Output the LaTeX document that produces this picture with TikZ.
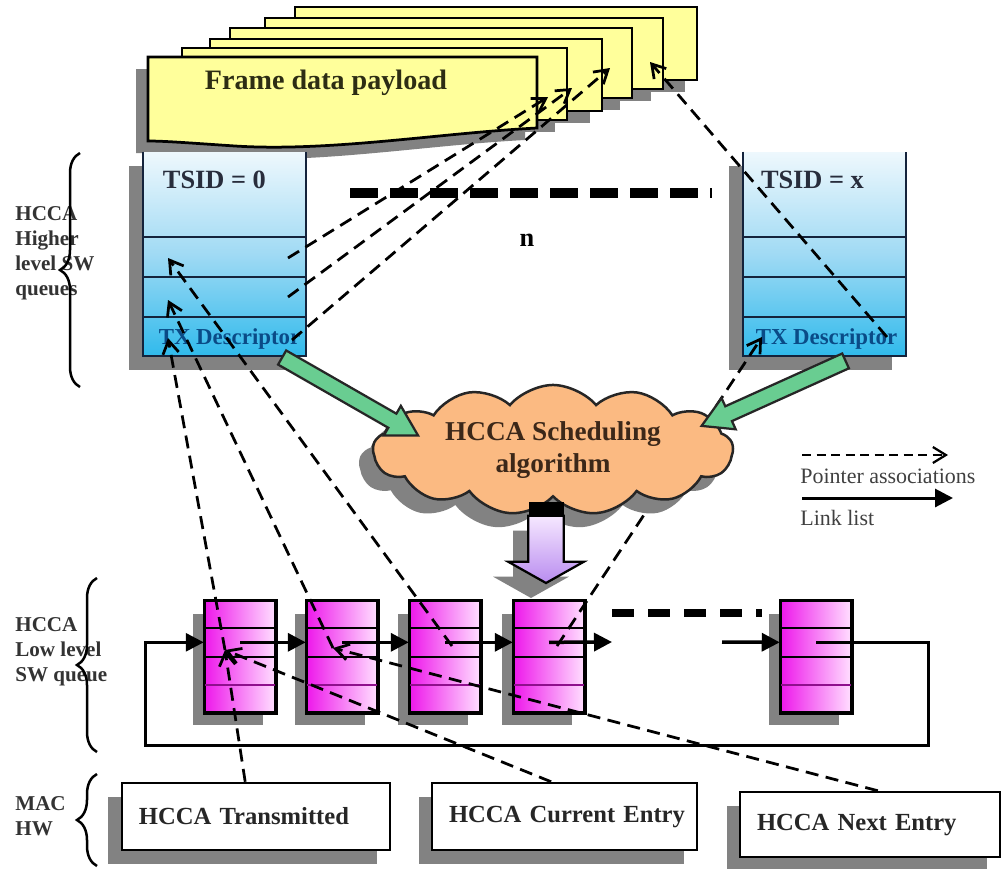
\documentclass[tikz,border=0pt]{standalone}
\usepackage{fontspec}
\setmainfont{Liberation Serif}
\usepackage{tikz}
\usetikzlibrary{arrows.meta,calc,shadows,shapes.symbols,shapes.arrows,decorations.pathreplacing}

\definecolor{frameyellow}{RGB}{255,255,155}
\definecolor{frameink}{RGB}{45,45,20}
\definecolor{queuetop}{RGB}{238,248,253}
\definecolor{queuemid}{RGB}{160,218,244}
\definecolor{queuebot}{RGB}{48,186,236}
\definecolor{queueedge}{RGB}{20,35,60}
\definecolor{tsidink}{RGB}{40,45,60}
\definecolor{descink}{RGB}{10,75,135}
\definecolor{cloudfill}{RGB}{251,186,130}
\definecolor{cloudink}{RGB}{60,40,25}
\definecolor{greenarrow}{RGB}{105,205,145}
\definecolor{lavlight}{RGB}{246,232,255}
\definecolor{lavdark}{RGB}{185,140,240}
\definecolor{entrymag}{RGB}{238,25,235}
\definecolor{entrypink}{RGB}{255,222,255}
\definecolor{shadowgray}{RGB}{130,130,130}

\tikzset{
  grayshadow/.style={drop shadow={shadow xshift=-#1, shadow yshift=-#1, fill=shadowgray, opacity=1}},
  grayshadow/.default=2.6mm,
  frame/.style={draw=black, line width=0.55mm, fill=frameyellow, grayshadow=2.4mm},
  queue/.style={top color=queuetop, bottom color=queuebot, middle color=queuemid,
    minimum width=32.6mm, minimum height=40.8mm, inner sep=0, grayshadow=2.8mm},
  queueline/.style={draw=queueedge, line width=0.45mm},
  tsid/.style={font=\bfseries\fontsize{15}{18}\selectfont, text=tsidink, inner sep=0},
  desc/.style={font=\bfseries\fontsize{13}{15}\selectfont, text=descink, inner sep=0},
  entry/.style={left color=entrymag, right color=entrypink, draw=black, line width=0.5mm,
    minimum width=14mm, minimum height=22.2mm, inner sep=0, grayshadow=2.5mm},
  hwbox/.style={draw=black, line width=0.5mm, fill=white, minimum height=13.4mm, inner xsep=3.4mm,
    align=left, grayshadow=2.7mm, font=\bfseries\fontsize{14}{16}\selectfont, text=black!85},
  ptr/.style={line width=0.55mm, dash pattern=on 2.6mm off 1.5mm, -{Straight Barb[length=2.6mm,width=3.2mm]}},
  link/.style={line width=0.7mm, -{Triangle[length=3.6mm,width=3.6mm]}},
  fatarrow/.style={single arrow, draw=black!85, line width=0.45mm, fill=greenarrow, inner xsep=0,
    inner ysep=1.4mm, single arrow head extend=1.8mm, single arrow tip angle=60},
  cloudnode/.style={cloud, cloud puffs=13, cloud puff arc=100, cloud ignores aspect, minimum width=72mm,
    minimum height=24mm, fill=cloudfill, draw=black!85, line width=0.5mm, align=center, grayshadow=2.8mm,
    font=\bfseries\fontsize{15.5}{18.2}\selectfont, text=cloudink},
  sidelabel/.style={font=\bfseries\fontsize{12}{14.2}\selectfont, text=black!80, align=left,
    anchor=north west, inner sep=0},
  legend/.style={font=\fontsize{12.5}{15}\selectfont, text=black!75, inner sep=0, anchor=base west},
  brace/.style={decorate, decoration={brace, amplitude=4mm}, line width=0.5mm},
}

\begin{document}
\begin{tikzpicture}[x=0.2mm, y=-0.2mm]
\path[use as bounding box, fill=white] (0,0) rectangle (1007,868);

% frame data payload
\foreach \xa/\ya/\xb/\yb in {295/7/697/80, 265/18/663/89, 230/28/632/98, 210/39/602/111, 182/48/567/120}
  \filldraw[frame] (\xa,\ya) rectangle (\xb,\yb);
\filldraw[frame] (148,57) -- (537,57) -- (537,128) .. controls (440,133) and (330,152) .. (235,146)
  .. controls (190,143) and (165,141) .. (148,141) -- cycle;
\node[font=\bfseries\fontsize{16}{19}\selectfont, text=frameink] (payload) at (326,83) {Frame data payload};

% higher level queues
\node[queue] (qL) at (224.5,254) {};
\node[queue] (qR) at (824.5,254) {};
\foreach \q in {qL,qR} {
  \draw[queueline] (\q.north west) |- (\q.south east) -- (\q.north east);
  \foreach \f in {0.417,0.613,0.809}
    \draw[queueline, line width=0.35mm] ($(\q.north west)!\f!(\q.south west)$) -- ($(\q.north east)!\f!(\q.south east)$);
}
\node[tsid, anchor=west] (tsidL) at ($(qL.north west)+(20,28)$) {TSID = 0};
\node[tsid, anchor=west] (tsidR) at ($(qR.north west)+(18,28)$) {TSID = x};
\node[desc] (descL) at ($(qL.south)+(5,-17)$) {TX Descriptor};
\node[desc] (descR) at ($(qR.south)+(2,-17)$) {TX Descriptor};

\coordinate (gapL) at (350,193);
\coordinate (gapR) at (712,193);
\draw[line width=2mm, dash pattern=on 5.6mm off 2.4mm] (gapL) -- (gapR);
\node[font=\bfseries\fontsize{15}{18}\selectfont] (nq) at (527,240) {n};

% MAC HW
\node[hwbox, text width=46.8mm] (trans) at (256,816.5) {\mbox{HCCA Transmitted}};
\node[hwbox, text width=46.2mm] (cur) at (564.5,816.5) {\mbox{HCCA Current Entry}};
\node[hwbox, text width=45.2mm, minimum height=13mm] (next) at (870,824.5) {\mbox{HCCA Next Entry}};

% low level queue
\foreach \n/\x in {e1/240,e2/342,e3/445,e4/549,e5/816} {
  \node[entry] (\n) at (\x,656.5) {};
  \draw[line width=0.4mm] ($(\n.north west)!0.25!(\n.south west)$) -- ($(\n.north east)!0.25!(\n.south east)$);
  \draw[line width=0.4mm] ($(\n.north west)!0.5!(\n.south west)$) -- ($(\n.north east)!0.5!(\n.south east)$);
  \draw[line width=0.3mm, entrymag!60!black] ($(\n.north west)!0.75!(\n.south west)$) -- ($(\n.north east)!0.75!(\n.south east)$);
  \draw[line width=0.5mm] (\n.north west) rectangle (\n.south east);
  \coordinate (\n-m) at ($(\n.north)!0.375!(\n.south)$);
  \coordinate (\n-w) at ($(\n.north west)!0.375!(\n.south west)$);
}

% link list
\coordinate (gapA) at (612,642);
\coordinate (gapB) at (722,642);
\coordinate (loopR) at (928,745);
\coordinate (loopL) at (145,745);
\draw[link] (e1-m) -- (e2-w);
\draw[link] (e2-m) -- (e3-w);
\draw[link] (e3-m) -- (e4-w);
\draw[link] (e4-m) -- (gapA);
\draw[link] (gapB) -- (e5-w);
\draw[link, line width=0.6mm] (e5-m) -| (loopR) -- (loopL) |- (e1-w);
\coordinate (dashA) at (612,613);
\coordinate (dashB) at (762,613);
\draw[line width=1.6mm, dash pattern=on 4.4mm off 2.8mm] (dashA) -- (dashB);

% pointer associations
\coordinate (pf1) at (548,97);
\coordinate (pf2) at (572,88);
\coordinate (pf3) at (610,68);
\coordinate (pf4) at (650,62);
\coordinate (qLa) at (168,258);
\coordinate (qLb) at (168,300);
\coordinate (qLc) at (168,338);
\coordinate (qLr2) at (288,258);
\coordinate (qLr3) at (288,297);
\coordinate (qLr4) at (292,340);
\coordinate (qRd) at (762,337);
\coordinate (qRr) at (887,337);
\coordinate (e1p) at (225,650);
\coordinate (e2p) at (333,648);
\coordinate (e3p) at (452,646);
\coordinate (e4p) at (557,646);
\draw[ptr] (qLr2) -- (pf1);
\draw[ptr] (qLr3) -- (pf2);
\draw[ptr] (qLr4) -- (pf3);
\draw[ptr] (qRr) -- (pf4);
\draw[ptr] (e1p) -- (qLc);
\draw[ptr] (e2p) -- (qLb);
\draw[ptr] (e3p) -- (qLa);
\draw[ptr] (e4p) -- (qRd);
\draw[ptr] ($(trans.north west)!0.46!(trans.north east)$) -- (e1p);
\draw[ptr] ($(cur.north west)!0.45!(cur.north east)$) -- (e1p);
\draw[ptr] ($(next.north west)!0.53!(next.north east)$) -- (e2p);

% scheduler
\node[cloudnode] (sched) at (553,450) {HCCA Scheduling\\algorithm};
\coordinate (gLa) at (276,354);
\coordinate (gLb) at (412,432);
\coordinate (gRa) at (852,358);
\coordinate (gRb) at (708,423);
\foreach \ga/\gb in {gLa/gLb, gRa/gRb}
  \path let \p1=($(\gb)-(\ga)$) in
    node[fatarrow, rotate={atan2(\y1,\x1)}, minimum height={veclen(\x1,\y1)}] (\ga-arr) at ($(\ga)!0.5!(\gb)$) {};
\node[fill=black, minimum width=7mm, minimum height=2.6mm, inner sep=0, anchor=north] (pcap) at (546,502) {};
\coordinate (ptip) at (546,583);
\shade[top color=lavlight, bottom color=lavdark, draw=black, line width=0.45mm, grayshadow=3mm]
  (pcap.south west) -- ++(0,46) -- ++(-20,0) -- (ptip) -- ($(pcap.south east)+(20,46)$) -- ++(-20,0) -- (pcap.south east) -- cycle;

% side labels
\node[sidelabel] (lblhigh) at (15,206) {HCCA\\Higher\\level SW\\queues};
\node[sidelabel] (lbllow) at (15,617) {HCCA\\Low level\\SW queue};
\node[sidelabel] (lblmac) at (15,796) {MAC\\HW};
\draw[brace] (80,387) -- (80,153);
\draw[brace] (97,752) -- (97,578);
\draw[brace] (97,866) -- (97,774);

% legend
\coordinate (lgA) at (802,455);
\coordinate (lgB) at (948,455);
\coordinate (lgC) at (802,498);
\coordinate (lgD) at (953,498);
\draw[ptr, line width=0.45mm, dash pattern=on 1.8mm off 1.1mm] (lgA) -- (lgB);
\draw[link, line width=0.6mm] (lgC) -- (lgD);
\node[legend] (lgptr) at (800,483) {Pointer associations};
\node[legend] (lglink) at (800,525) {Link list};
\end{tikzpicture}
\end{document}
